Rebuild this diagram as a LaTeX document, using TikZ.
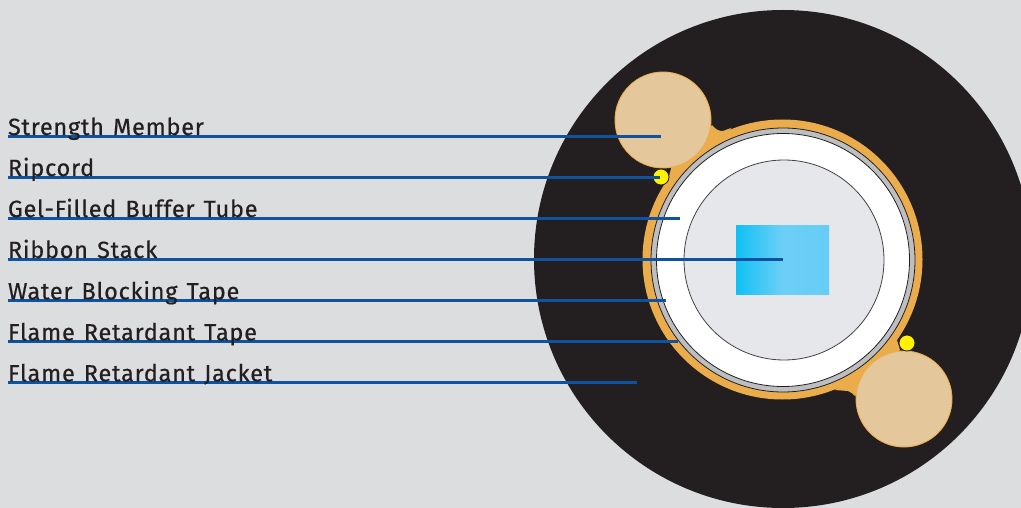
\documentclass[tikz,border=0pt]{standalone}
\usepackage{fontspec}
\setmainfont[LetterSpace=3.2,WordSpace=1.3,FakeBold=0.5]{Fira Sans}
\definecolor{bg}{HTML}{DCDDDF}
\definecolor{jacket}{HTML}{231F20}
\definecolor{orangeband}{HTML}{EBAC4C}
\definecolor{member}{HTML}{E4C89B}
\definecolor{cordyellow}{HTML}{FFF200}
\definecolor{tapegray}{HTML}{BCBEC0}
\definecolor{tubegel}{HTML}{E6E7EB}
\definecolor{leader}{HTML}{0F52A0}
\definecolor{ribbonA}{HTML}{10C0F5}
\definecolor{ribbonB}{HTML}{6DCFF6}
\definecolor{ribbonC}{HTML}{65CDF6}
\pgfdeclarelayer{art}
\pgfsetlayers{art,main}
\tikzset{
  ring/.style={circle,inner sep=0pt,outer sep=0pt},
  memberdisc/.style={ring,minimum size=96pt,fill=member,draw=orangeband,line width=0.9pt},
  corddot/.style={ring,minimum size=16pt,fill=cordyellow,draw=jacket,line width=0.8pt},
  label/.style={inner sep=0pt,outer sep=0pt,anchor=base west,text=jacket,font=\fontsize{23.5}{26}\selectfont},
  leaderline/.style={draw=leader,line width=2.6pt}
}
\begin{document}
\begin{tikzpicture}[x=1pt,y=-1pt]
\clip (0,0) rectangle (1021,508);
\node[label] (l1) at (8,135) {Strength Member};
\node[label] (l2) at (8,176) {Ripcord};
\node[label] (l3) at (8,217) {Gel-Filled Buffer Tube};
\node[label] (l4) at (8,258) {Ribbon Stack};
\node[label] (l5) at (8,299.4) {Water Blocking Tape};
\node[label] (l6) at (8,340.4) {Flame Retardant Tape};
\node[label] (l7) at (8,381.4) {Flame Retardant Jacket};
\begin{pgfonlayer}{art}
\fill[bg] (0,0) rectangle (1021,508);
\node[ring,minimum size=498pt,fill=jacket] (jk) at (783,259) {};
\node[ring,minimum size=280pt,fill=orangeband] (fr) at (782.5,259.5) {};
\fill[orangeband] (712,125) .. controls (716,130) and (719,131) .. (723,131) -- (731,128) -- (700,195) -- (667,184) -- (672,165) -- cycle;
\fill[orangeband] (835,390) -- (848,391) .. controls (851,392) and (853,394) .. (855,396) -- (880,375) -- (900,350) -- (897,340) -- (860,370) -- cycle;
\node[ring,minimum size=264pt,fill=tapegray,draw=jacket,line width=0.8pt] (tp) at (783,260) {};
\node[ring,minimum size=253pt,fill=white,draw=jacket,line width=0.8pt] (tb) at (783,260) {};
\node[ring,minimum size=200pt,fill=tubegel,draw=jacket!85,line width=0.8pt] (gel) at (784,260) {};
\fill[left color=ribbonA,right color=ribbonC,middle color=ribbonB] (736,225.5) rectangle (829,294.5);
\node[memberdisc] (m1) at (663,120) {};
\node[memberdisc] (m2) at (904,399) {};
\node[corddot] (c1) at (661,177) {};
\node[corddot] (c2) at (907,343) {};
\coordinate (e1) at (661,136.3);
\coordinate (e2) at (660,177.3);
\coordinate (e3) at (679.5,218.3);
\coordinate (e4) at (783,259.4);
\coordinate (e5) at (666,300.6);
\coordinate (e6) at (678,341.6);
\coordinate (e7) at (637,382.6);
\foreach \i in {1,...,7}{
  \draw[leaderline] (l\i.base west |- e\i) -- (e\i);
}
\end{pgfonlayer}
\end{tikzpicture}
\end{document}
